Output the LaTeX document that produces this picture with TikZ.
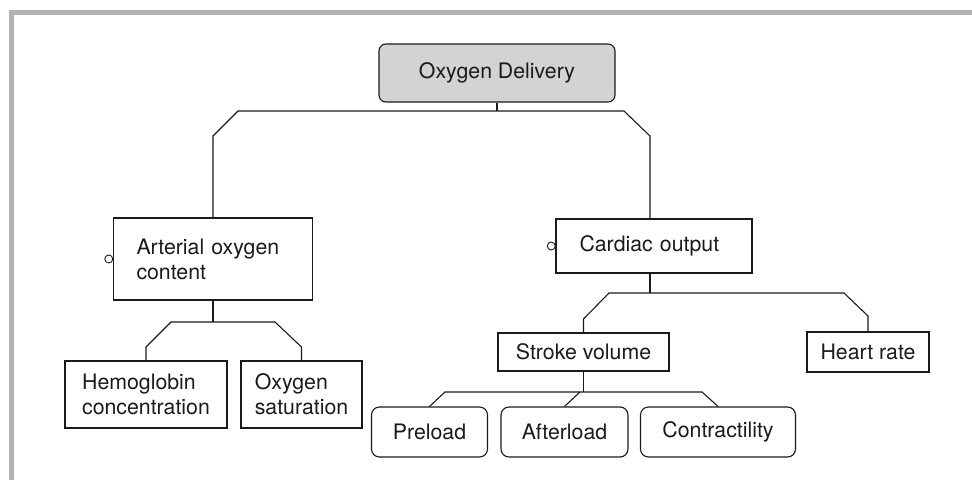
\documentclass[tikz,border=0pt]{standalone}
\usepackage{fontspec}
\setmainfont{TeX Gyre Heros}
\definecolor{frame}{HTML}{B3B3B3}
\definecolor{ink}{HTML}{1A1A1A}
\definecolor{topfill}{HTML}{D3D3D3}
\begin{document}
\begin{tikzpicture}[x=1pt,y=-1pt,
  every node/.style={font=\fontsize{21.3}{25}\selectfont, text=ink},
  box/.style={draw=ink, line width=1.1pt, inner sep=0pt, align=center},
  rbox/.style={box, rounded corners=8pt},
  lbox/.style={box, align=left, inner xsep=23pt},
  link/.style={draw=ink, line width=1.1pt},
  knob/.style={draw=ink, line width=0.9pt, fill=white}]
\useasboundingbox (0,0) rectangle (972,480);
\fill[frame] (9,10) rectangle (972,15);
\fill[frame] (9,10) rectangle (14,480);

\node[box, rounded corners=7pt, fill=topfill, minimum width=236pt, minimum height=58pt] (od) at (497,73) {Oxygen Delivery};

\node[lbox, text width=153pt, minimum height=82pt] (art) at (213,259) {Arterial oxygen\\content};
\node[lbox, text width=149pt, minimum height=54pt, inner xsep=23.5pt] (co) at (654,246) {Cardiac output};

\node[box, minimum width=162pt, minimum height=67pt, align=left] (hb) at (146,394.5) {Hemoglobin\\concentration};
\node[box, minimum width=121pt, minimum height=67pt, align=left] (os) at (301.5,394.5) {Oxygen\\saturation};

\node[box, minimum width=171pt, minimum height=38pt] (sv) at (583.5,352) {Stroke volume};
\node[box, minimum width=122pt, minimum height=40pt] (hr) at (868,352) {Heart rate};

\node[rbox, minimum width=116pt, minimum height=50pt] (pre) at (429.5,432) {Preload};
\node[rbox, minimum width=127pt, minimum height=50pt] (aft) at (564.5,432) {Afterload};
\node[rbox, minimum width=155pt, minimum height=50pt] (con) at (718,432) {Contractility};

% top level
\draw[link] (od.south) -- (497,111);
\draw[link] (art.north) -- (213,136) -- (238,111) -- (624,111) -- (650,136) -- ([xshift=-4pt]co.north);

% arterial branch
\draw[link] (art.south) -- (213,322);
\draw[link] (hb.north) -- (146,347) -- (171,322) -- (275,322) -- (301.5,347) -- (os.north);

% cardiac branch
\draw[link] ([xshift=-4pt]co.south) -- (650,293);
\draw[link] (sv.north) -- (583.5,319) -- (609,293) -- (844,293) -- (868,316) -- (hr.north);

% stroke volume branch
\draw[link] (sv.south) -- (583.5,392);
\draw[link] (pre.north) -- (445,392) -- (702,392) -- (con.north);
\draw[link] (aft.north) -- (580,392);

% small circles
\draw[knob] ([xshift=-4.2pt]art.west) circle (4pt);
\draw[knob] ([xshift=-4.2pt]co.west) circle (4pt);
\end{tikzpicture}
\end{document}
